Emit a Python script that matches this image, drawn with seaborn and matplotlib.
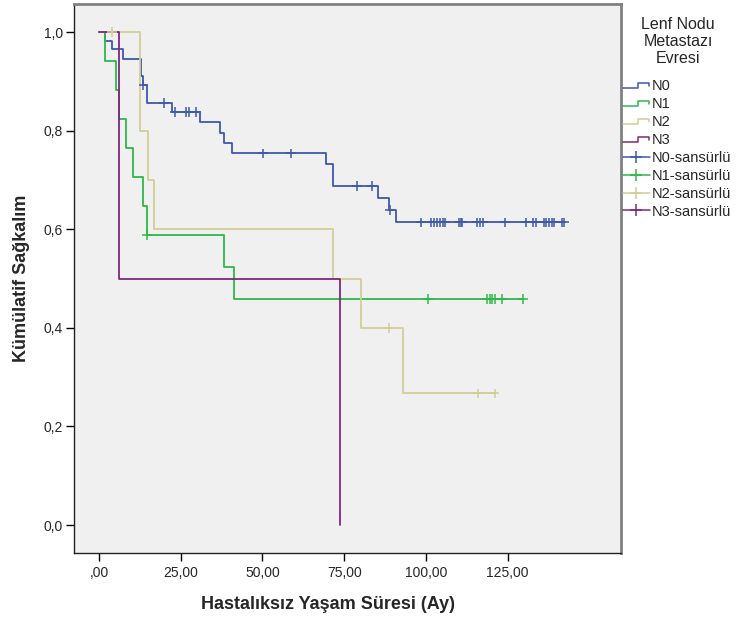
import numpy as np
import pandas as pd
import matplotlib
matplotlib.use("Agg")
import matplotlib.pyplot as plt
import seaborn as sns
from matplotlib.lines import Line2D
from matplotlib.legend_handler import HandlerBase

# Kaplan-Meier step points (time in months, cumulative survival)
n0_time = [0, 1.8, 4.0, 7.2, 12.8, 13.5, 14.8, 22.2, 30.9, 37.0, 38.2, 40.6, 69.4, 71.7, 85.4, 88.8, 90.8, 142.3]
n0_surv = [1.0, 0.983, 0.966, 0.946, 0.911, 0.893, 0.857, 0.838, 0.817, 0.796, 0.775, 0.754, 0.733, 0.688, 0.663, 0.639, 0.614, 0.614]
n0_cens = [13.6, 20.0, 23.3, 26.6, 27.5, 29.8, 50.1, 58.8, 79.0, 83.4, 88.9, 98.4, 101.7, 102.5, 103.5, 104.3,
           105.1, 105.9, 110.1, 110.7, 111.2, 115.7, 116.5, 117.5, 124.2, 130.5, 132.8, 133.6, 136.1, 136.9,
           137.7, 138.5, 139.2, 141.5, 142.3]

n1_time = [0, 1.8, 5.1, 6.2, 8.2, 10.5, 13.6, 14.6, 38.3, 41.4, 129.7]
n1_surv = [1.0, 0.941, 0.882, 0.824, 0.765, 0.706, 0.647, 0.588, 0.523, 0.459, 0.459]
n1_cens = [14.8, 100.6, 118.8, 119.5, 120.3, 121.0, 123.2, 129.7]

n2_time = [0, 12.5, 14.9, 16.8, 71.5, 80.2, 93.1, 121.0]
n2_surv = [1.0, 0.8, 0.7, 0.6, 0.5, 0.4, 0.267, 0.267]
n2_cens = [3.9, 88.8, 115.8, 121.0]

n3_time = [0, 6.1, 73.7]
n3_surv = [1.0, 0.5, 0.0]
n3_cens = []

groups = ["N0", "N1", "N2", "N3"]
colors = ["#3E58AC", "#2EB848", "#D3CE97", "#7C287D"]
x_ticks = [0, 25, 50, 75, 100, 125]
x_tick_labels = [",00", "25,00", "50,00", "75,00", "100,00", "125,00"]
y_ticks = [0.0, 0.2, 0.4, 0.6, 0.8, 1.0]
y_tick_labels = ["0,0", "0,2", "0,4", "0,6", "0,8", "1,0"]


def surv_at(times, surv, t):
    idx = np.searchsorted(times, t, side="right") - 1
    return np.asarray(surv)[idx]


series = [(n0_time, n0_surv, n0_cens), (n1_time, n1_surv, n1_cens),
          (n2_time, n2_surv, n2_cens), (n3_time, n3_surv, n3_cens)]
curves = pd.concat([pd.DataFrame({"Süre": t, "Sağkalım": s, "Evre": g})
                    for g, (t, s, c) in zip(groups, series)], ignore_index=True)
censored = pd.concat([pd.DataFrame({"Süre": c, "Sağkalım": surv_at(t, s, c) if len(c) else [], "Evre": g})
                      for g, (t, s, c) in zip(groups, series)], ignore_index=True)

sns.set_style("white")
plt.rcParams["font.family"] = ["Liberation Sans", "DejaVu Sans"]

fig = plt.figure(figsize=(7.36, 6.23), dpi=100)
ax = fig.add_axes([74 / 736, 1 - 552.5 / 623, 547 / 736, 548.5 / 623])
ax.set_facecolor("#F0F0F0")

palette = dict(zip(groups, colors))
sns.lineplot(data=curves, x="Süre", y="Sağkalım", hue="Evre", hue_order=groups, palette=palette,
             drawstyle="steps-post", estimator=None, sort=False, legend=False, linewidth=1.3, ax=ax)
sns.scatterplot(data=censored, x="Süre", y="Sağkalım", hue="Evre", hue_order=groups, palette=palette,
                marker="+", s=50, linewidth=1.1, legend=False, ax=ax, zorder=3)

ax.set_xlim(-7.65, 159.7)
ax.set_ylim(-0.0558, 1.0574)
ax.set_xticks(x_ticks)
ax.set_xticklabels(x_tick_labels)
ax.set_yticks(y_ticks)
ax.set_yticklabels(y_tick_labels)
ax.tick_params(direction="out", length=6, width=1, color="black", labelsize=10, pad=2,
               bottom=True, left=True)
ax.tick_params(axis="x", pad=4)

for side in ["left", "bottom"]:
    ax.spines[side].set_color("#222222")
    ax.spines[side].set_linewidth(1.0)
for side in ["top", "right"]:
    ax.spines[side].set_color("#808080")
    ax.spines[side].set_linewidth(2.0)

ax.set_xlabel("Hastalıksız Yaşam Süresi (Ay)", fontsize=13, fontweight="bold")
ax.set_ylabel("Kümülatif Sağkalım", fontsize=13, fontweight="bold")
ax.xaxis.set_label_coords(0.464, -0.094)
ax.xaxis.label.set_va("center")
ax.yaxis.set_label_coords(-0.096, 0.5)
ax.yaxis.label.set_va("center")


class StepHandler(HandlerBase):
    def create_artists(self, legend, orig_handle, xdescent, ydescent, width, height, fontsize, trans):
        xs = np.array([0, 0.55, 0.55, 0.95, 0.95]) * width - xdescent
        ys = np.array([0.15, 0.15, 0.7, 0.7, 0.35]) * height - ydescent
        line = Line2D(xs, ys, color=orig_handle.get_color(), lw=orig_handle.get_linewidth())
        line.set_transform(trans)
        return [line]


# legend title drawn separately so its gap to the entries can match
fig.text(678 / 736, 1 - 17 / 623, "Lenf Nodu\nMetastazı\nEvresi", ha="center", va="top",
         fontsize=11.5, linespacing=1.17, multialignment="center")

step_handles = [Line2D([], [], color=c, lw=1.1) for c in colors]
cens_handles = [Line2D([], [], color=c, lw=1.1, marker="+", markersize=8, markeredgewidth=1.1)
                for c in colors]
labels = groups + [g + "-sansürlü" for g in groups]
handler_map = {h: StepHandler() for h in step_handles}
leg = fig.legend(step_handles + cens_handles, labels, handler_map=handler_map,
                 loc="upper left", bbox_to_anchor=(623 / 736, 1 - 79 / 623),
                 frameon=False, fontsize=10.5, borderpad=0, borderaxespad=0, handlelength=1.85,
                 handletextpad=0.15, labelspacing=0.27, numpoints=1)

fig.savefig("out.png", dpi=100)
